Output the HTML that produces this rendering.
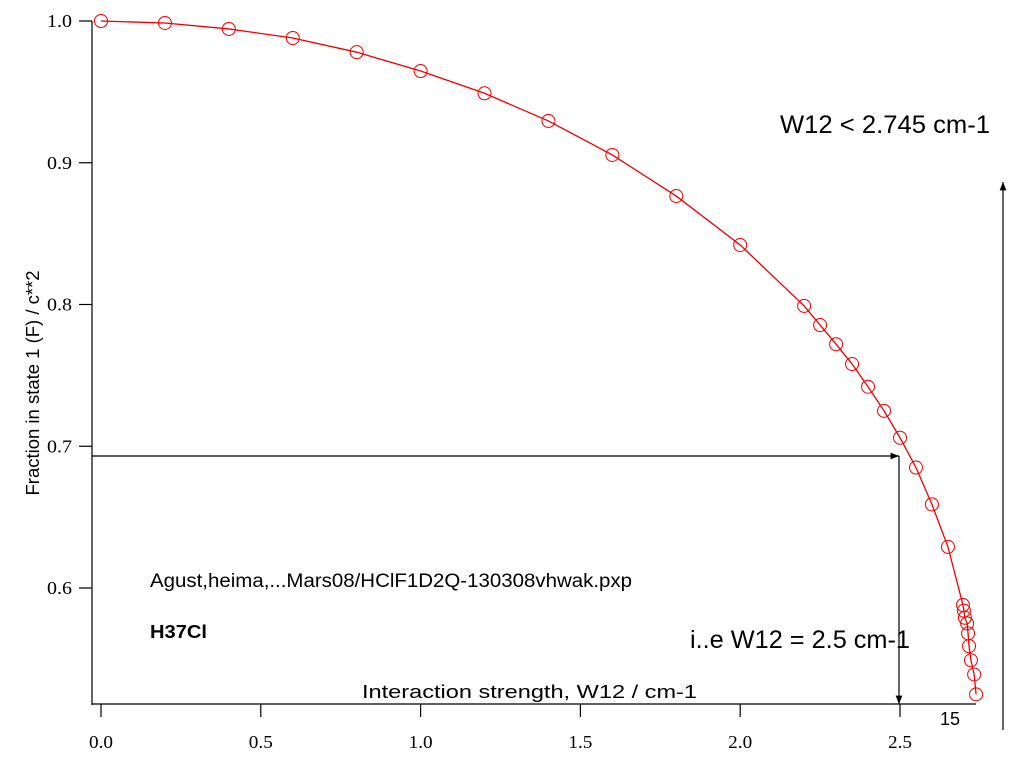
<!DOCTYPE html>
<html><head><style>body{margin:0;background:#fff}svg{display:block}</style></head><body>
<svg width="1024" height="768" xmlns="http://www.w3.org/2000/svg" font-family="Liberation Serif, serif">
<defs><marker id="ah" viewBox="0 0 10 10" refX="10" refY="5" markerWidth="7" markerHeight="7" orient="auto"><path d="M0,1 L10,5 L0,9 z" fill="#000"/></marker></defs>
<g id="axes" stroke="#000" stroke-width="1.2" fill="none"></g>
<g id="ticks" font-size="18"></g>
<g id="series"></g>
<text x="0" y="0" transform="translate(39 383) rotate(-90)" font-family="Liberation Sans, sans-serif" font-size="18" text-anchor="middle" textLength="225" lengthAdjust="spacingAndGlyphs">Fraction in state 1 (F) / c**2</text>
<text x="362" y="698" font-family="Liberation Sans, sans-serif" font-size="18" textLength="335" lengthAdjust="spacingAndGlyphs">Interaction strength, W12 / cm-1</text>
<text x="150" y="587" font-family="Liberation Sans, sans-serif" font-size="19" textLength="482" lengthAdjust="spacingAndGlyphs">Agust,heima,...Mars08/HClF1D2Q-130308vhwak.pxp</text>
<text x="150" y="638" font-family="Liberation Sans, sans-serif" font-size="18" font-weight="bold" textLength="57" lengthAdjust="spacingAndGlyphs">H37Cl</text>
<text x="780" y="133" font-family="Liberation Sans, sans-serif" font-size="25" textLength="210" lengthAdjust="spacingAndGlyphs">W12 &lt; 2.745 cm-1</text>
<text x="690" y="648" font-family="Liberation Sans, sans-serif" font-size="25" textLength="220" lengthAdjust="spacingAndGlyphs">i..e W12 = 2.5 cm-1</text>
<text x="940" y="725" font-family="Liberation Sans, sans-serif" font-size="18">15</text>
<line x1="92" y1="456" x2="899" y2="456" stroke="#000" stroke-width="1.2" marker-end="url(#ah)"/>
<line x1="899" y1="456" x2="899" y2="704" stroke="#000" stroke-width="1.2" marker-end="url(#ah)"/>
<line x1="1003" y1="730" x2="1003" y2="182" stroke="#000" stroke-width="1.2" marker-end="url(#ah)"/>
</svg>
<script>
const xTicks=[0,0.5,1,1.5,2,2.5];
const xTickLabels=["0.0","0.5","1.0","1.5","2.0","2.5"];
const yTicks=[0.6,0.7,0.8,0.9,1.0];
const yTickLabels=["0.6","0.7","0.8","0.9","1.0"];
const wVals=[0,0.2,0.4,0.6,0.8,1.0,1.2,1.4,1.6,1.8,2.0,2.2,2.25,2.3,2.35,2.4,2.45,2.5,2.55,2.6,2.65,2.697,2.7,2.703,2.710,2.713,2.716,2.722,2.732,2.738];
const fVals=[1.0,0.9986,0.9944,0.988,0.978,0.9647,0.949,0.9295,0.9055,0.8765,0.842,0.799,0.7855,0.772,0.758,0.742,0.725,0.706,0.685,0.659,0.629,0.588,0.584,0.579,0.575,0.568,0.559,0.549,0.539,0.525];
const NS="http://www.w3.org/2000/svg";
const X=v=>101+v*319.6, Y=v=>21+(1-v)*1417.5;
function mk(t,a,p){const e=document.createElementNS(NS,t);for(const k in a)e.setAttribute(k,a[k]);p.appendChild(e);return e;}
const ax=document.getElementById('axes'),tk=document.getElementById('ticks'),sr=document.getElementById('series');
let l=mk('line',{x1:92,y1:21,x2:92,y2:705},ax);


l=mk('line',{x1:92,y1:704,x2:976,y2:704},ax);


xTicks.forEach((v,i)=>{
 const t=mk('line',{x1:X(v),y1:704,x2:X(v),y2:717,stroke:'#000','stroke-width':1.2},tk);
 
 
 const s=mk('text',{x:X(v),y:748,'text-anchor':'middle',textLength:24,lengthAdjust:'spacingAndGlyphs'},tk);s.textContent=xTickLabels[i];
 
 
});
yTicks.forEach((v,i)=>{
 const t=mk('line',{x1:79,y1:Y(v),x2:92,y2:Y(v),stroke:'#000','stroke-width':1.2},tk);
 
 
 const s=mk('text',{x:72,y:Y(v)+6,'text-anchor':'end',textLength:25,lengthAdjust:'spacingAndGlyphs'},tk);s.textContent=yTickLabels[i];
 
 
});
const pl=mk('polyline',{points:wVals.map((w,i)=>X(w)+','+Y(fVals[i])).join(' '),fill:'none',stroke:'#e00','stroke-width':1.3},sr);


wVals.forEach((w,i)=>{
 const c=mk('circle',{cx:X(w),cy:Y(fVals[i]),r:6.5,fill:'none',stroke:'#e00','stroke-width':1},sr);
 
 
});
</script>
</body></html>
